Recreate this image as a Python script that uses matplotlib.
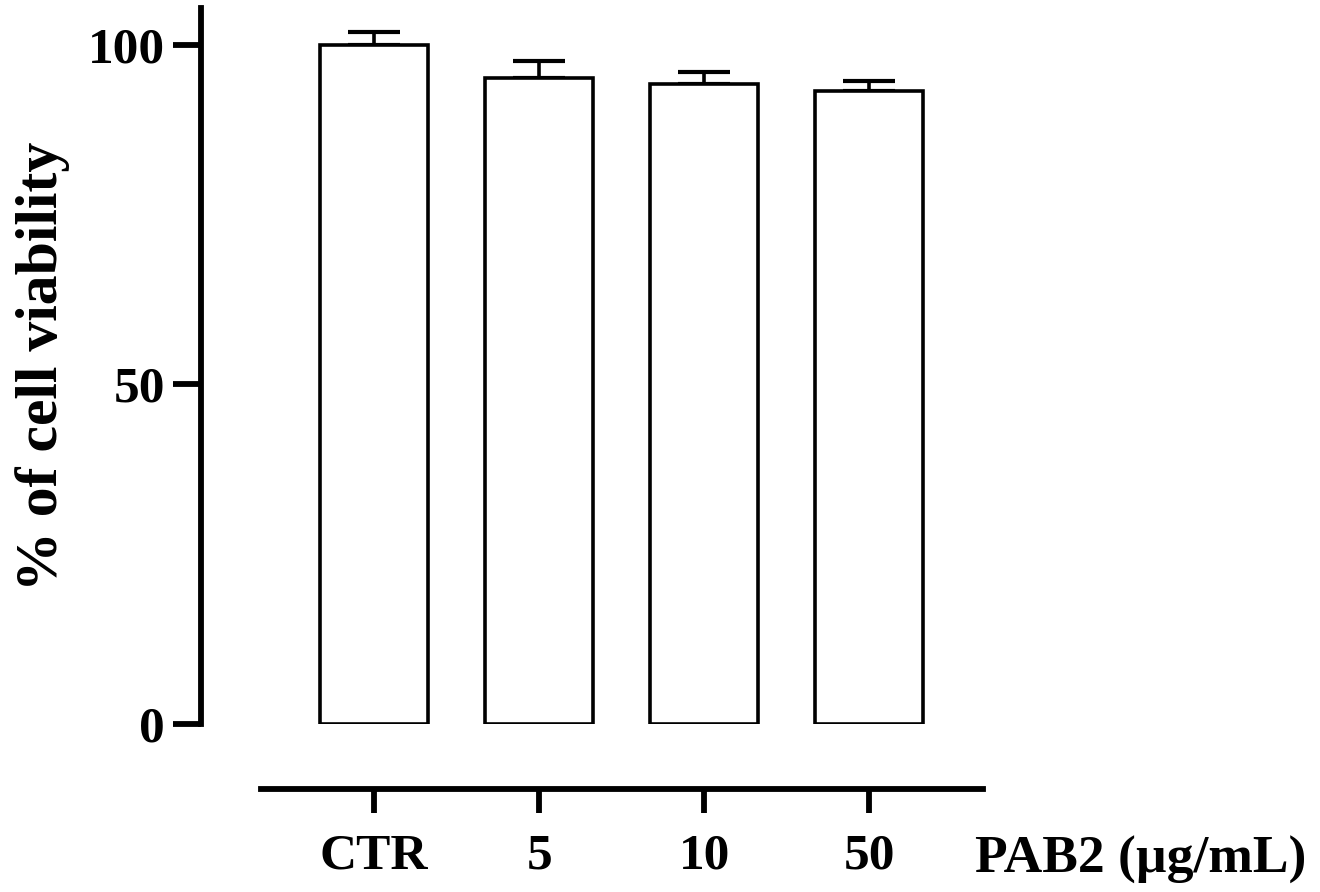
import matplotlib
matplotlib.use("Agg")
import matplotlib.pyplot as plt

categories = ["CTR", "5", "10", "50"]
viability = [100.0, 95.1, 94.2, 93.2]
err_upper = [1.9, 2.5, 1.8, 1.4]
yticks = [0, 50, 100]
x_title = "PAB2 (µg/mL)"
y_title = "% of cell viability"

plt.rcParams['font.family'] = ['Liberation Serif', 'DejaVu Serif']
plt.rcParams['font.weight'] = 'bold'

fig = plt.figure(figsize=(13.2, 8.92), dpi=100)
ax = fig.add_axes([0.1523, 0.1883, 0.5962, 0.8027])

x = list(range(len(categories)))
ax.bar(x, viability, width=0.655, color='white', edgecolor='black', linewidth=2.6, zorder=2)
ax.errorbar(x, viability, yerr=[[0]*len(x), err_upper], fmt='none', ecolor='black',
            elinewidth=2.6, capsize=19, capthick=3.0, zorder=1)

ax.set_xlim(-1.05, 3.72)
ax.set_ylim(0, 105.4)

for s in ['top', 'right']:
    ax.spines[s].set_visible(False)
ax.spines['left'].set_linewidth(4.2)
ax.spines['bottom'].set_linewidth(4.2)
ax.spines['bottom'].set_position(('outward', 47))
ax.spines['bottom'].set_bounds(-0.685, 3.69)

ax.set_yticks(yticks)
ax.set_yticklabels([str(v) for v in yticks], fontsize=37, fontweight='bold')
ax.set_xticks(x)
ax.set_xticklabels(categories, fontsize=37, fontweight='bold')
ax.tick_params(axis='y', length=20, width=4.2, pad=6)
ax.tick_params(axis='x', length=17, width=4.2, pad=15)

ax.set_ylabel(y_title, fontsize=43, fontweight='bold', labelpad=13)

fig.text(975/1320, 1 - 860/892, x_title, fontsize=38.5, fontweight='bold',
         ha='left', va='center')

fig.savefig("out.png", dpi=100)
